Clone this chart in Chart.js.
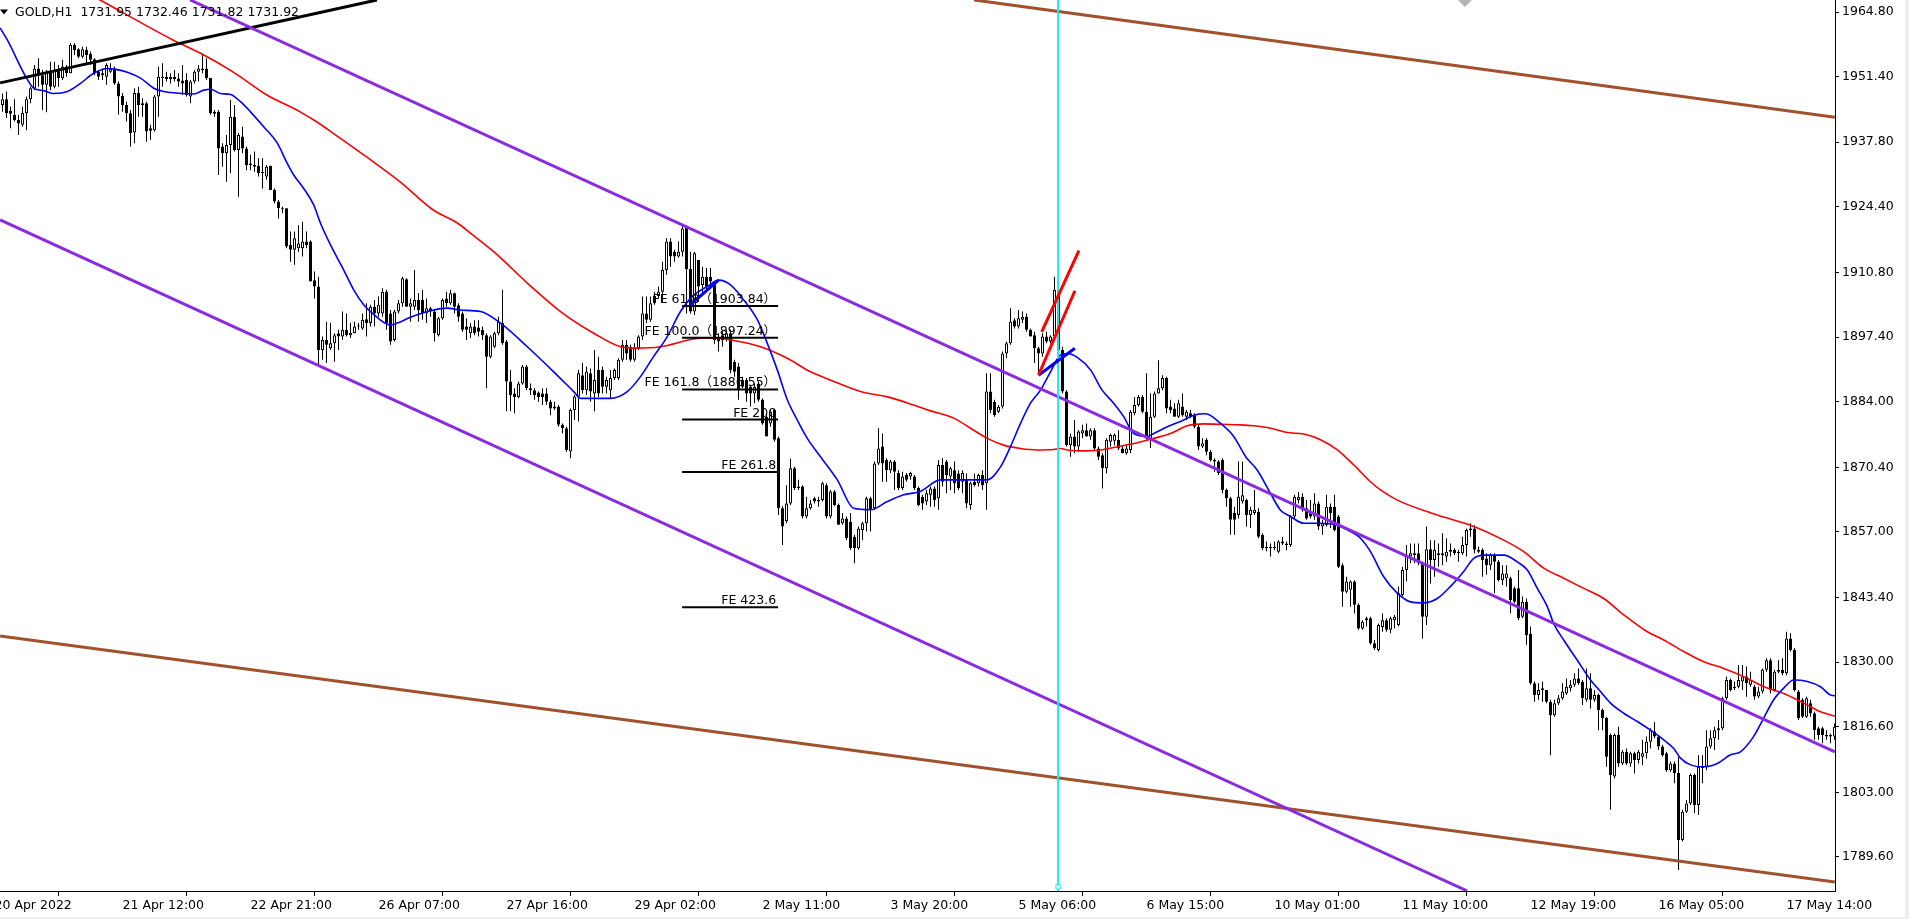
<!DOCTYPE html>
<html>
<head>
<meta charset="utf-8">
<title>GOLD,H1</title>
<script src="https://cdn.jsdelivr.net/npm/chart.js@4.4.1/dist/chart.umd.min.js"></script>
<style>
  html, body { margin: 0; padding: 0; background: #fff; }
  canvas { display: block; }
</style>
</head>
<body>
<canvas id="goldChart" width="1909" height="919"></canvas>
<script>
// hourly candles, bar 0 = leftmost bar on screen
const opens = [
  1945.5,1946.7,1944.3,1943.5,1942.4,1941.4,1943.8,1946.7,1949.0,1953.1,
  1951.7,1949.7,1952.4,1949.3,1952.8,1951.1,1953.5,1952.1,1958.0,1957.1,
  1955.5,1956.9,1956.1,1955.0,1952.4,1952.1,1951.4,1952.4,1953.1,1950.0,
  1947.4,1945.5,1943.8,1939.8,1948.0,1945.9,1945.9,1940.7,1940.3,1947.3,
  1951.1,1951.4,1951.3,1951.4,1951.0,1950.6,1950.7,1947.3,1950.4,1952.4,
  1952.8,1953.1,1951.1,1944.1,1944.1,1936.9,1935.5,1937.2,1943.1,1936.2,
  1939.0,1936.5,1933.4,1933.1,1932.9,1931.5,1930.7,1932.9,1927.9,1925.5,
  1924.2,1924.1,1916.5,1915.5,1915.8,1915.8,1917.2,1917.2,1909.2,1907.9,
  1894.7,1896.8,1895.1,1896.1,1898.2,1897.5,1898.9,1897.8,1898.2,1899.6,
  1899.2,1901.1,1900.3,1903.7,1902.3,1902.3,1906.8,1902.3,1896.8,1902.7,
  1904.4,1909.4,1903.7,1903.7,1905.1,1905.1,1902.3,1903.4,1902.7,1897.8,
  1901.3,1905.4,1904.4,1906.5,1904.0,1902.3,1899.6,1898.2,1899.6,1899.4,
  1898.9,1897.8,1893.3,1895.4,1898.2,1900.3,1896.5,1888.2,1885.7,1885.0,
  1887.8,1891.3,1886.8,1886.4,1885.9,1885.7,1885.7,1884.0,1883.0,1883.0,
  1879.2,1878.5,1873.7,1882.3,1885.1,1889.5,1886.4,1889.9,1885.7,1890.6,
  1890.6,1887.1,1886.4,1888.9,1888.9,1892.7,1895.8,1895.4,1892.7,1895.1,
  1897.5,1902.3,1901.0,1904.4,1905.9,1906.8,1911.3,1917.2,1915.1,1914.1,
  1915.1,1920.3,1911.5,1902.7,1913.4,1908.2,1909.9,1909.9,1908.2,1897.2,
  1897.8,1897.2,1898.2,1892.3,1891.3,1888.5,1888.5,1887.1,1885.7,1887.8,
  1884.4,1880.9,1879.5,1882.3,1876.4,1861.9,1859.2,1862.9,1870.2,1866.1,
  1866.4,1860.2,1861.9,1864.0,1863.3,1863.6,1866.7,1860.2,1865.4,1862.6,
  1858.8,1859.8,1859.1,1856.0,1853.6,1857.4,1858.8,1864.0,1861.9,1871.2,
  1874.7,1871.9,1869.8,1871.6,1869.2,1866.1,1868.8,1868.5,1868.5,1866.1,
  1864.3,1863.3,1864.7,1866.0,1864.0,1870.9,1871.6,1868.5,1869.8,1869.1,
  1867.4,1867.8,1862.6,1867.4,1867.1,1868.8,1867.1,1886.1,1884.0,1881.9,
  1883.0,1894.0,1896.1,1900.9,1899.6,1901.0,1901.6,1898.9,1897.8,1895.1,
  1894.0,1897.5,1896.5,1897.5,1907.2,1894.7,1886.1,1875.0,1876.8,1874.7,
  1877.4,1878.1,1876.8,1878.1,1874.3,1872.9,1870.2,1875.7,1875.9,1876.1,
  1874.3,1873.3,1874.0,1881.6,1883.3,1885.0,1881.9,1876.1,1880.9,1885.7,
  1886.8,1888.9,1883.0,1882.6,1880.9,1883.0,1880.9,1881.6,1881.2,1878.8,
  1874.7,1876.1,1873.6,1871.9,1871.6,1871.9,1865.7,1864.0,1860.9,1860.5,
  1863.3,1863.6,1860.5,1860.9,1861.2,1856.4,1853.9,1853.6,1853.9,1852.9,
  1854.6,1854.6,1854.3,1860.2,1863.6,1864.3,1861.9,1861.2,1860.2,1862.9,
  1858.1,1858.4,1862.2,1862.2,1860.2,1850.1,1844.6,1845.0,1846.7,1841.9,
  1837.0,1839.1,1839.1,1833.9,1832.5,1837.3,1838.7,1836.7,1838.7,1837.7,
  1843.9,1849.1,1851.9,1852.2,1852.6,1850.5,1839.4,1853.4,1851.2,1852.6,
  1852.2,1851.9,1852.9,1853.3,1852.6,1852.6,1854.3,1857.4,1857.7,1853.3,
  1853.3,1851.5,1850.1,1852.2,1850.8,1847.0,1847.4,1847.4,1845.3,1845.3,
  1839.4,1842.5,1835.9,1825.6,1823.2,1824.2,1824.2,1821.8,1819.0,1821.5,
  1822.5,1823.5,1824.6,1825.3,1826.6,1825.9,1822.2,1824.6,1822.2,1823.2,
  1820.1,1818.4,1814.9,1806.3,1814.9,1809.0,1811.4,1809.0,1811.1,1809.7,
  1810.4,1811.1,1813.5,1815.6,1814.6,1812.5,1811.1,1807.6,1809.0,1807.0,
  1793.1,1799.0,1800.7,1806.6,1800.4,1808.0,1808.3,1812.5,1814.2,1815.9,
  1816.3,1822.5,1826.3,1824.9,1824.9,1826.0,1827.0,1825.3,1824.9,1822.9,
  1823.9,1828.4,1830.4,1824.2,1828.0,1828.4,1827.7,1834.9,1832.5,1823.9,
  1822.2,1818.7,1821.5,1819.4,1816.3,1816.3,1814.9,1814.6,1814.6
];
const highs = [
  1947.9,1948.3,1945.2,1946.7,1943.5,1945.2,1947.3,1949.3,1953.8,1955.2,
  1952.8,1952.8,1954.5,1954.5,1953.8,1954.9,1953.8,1958.3,1958.3,1957.3,
  1957.6,1957.6,1956.6,1955.2,1952.8,1953.1,1954.2,1954.2,1953.5,1950.4,
  1948.0,1946.2,1944.5,1949.0,1949.3,1946.9,1946.2,1941.4,1947.6,1953.5,
  1954.2,1952.4,1952.1,1952.8,1952.1,1953.8,1952.1,1950.7,1952.8,1953.8,
  1955.9,1955.2,1951.1,1944.5,1944.5,1937.6,1939.3,1946.6,1945.5,1939.7,
  1941.0,1936.9,1935.2,1935.9,1934.5,1934.5,1933.1,1932.9,1928.2,1925.8,
  1924.4,1924.1,1919.3,1919.3,1920.6,1921.3,1919.3,1917.5,1911.0,1909.9,
  1897.5,1900.6,1900.3,1898.2,1898.9,1902.7,1902.3,1900.3,1900.6,1900.3,
  1902.3,1904.4,1904.1,1905.1,1905.8,1907.5,1907.2,1903.0,1903.0,1905.1,
  1909.9,1909.6,1905.4,1911.3,1906.5,1907.2,1905.4,1903.7,1903.0,1901.6,
  1905.4,1906.8,1907.2,1906.6,1904.4,1902.7,1901.3,1900.3,1900.9,1900.9,
  1899.6,1898.2,1897.8,1898.5,1901.6,1907.2,1896.8,1890.6,1886.8,1888.2,
  1891.6,1891.6,1887.8,1886.8,1886.1,1886.8,1886.8,1884.4,1884.0,1883.3,
  1879.5,1878.8,1882.6,1885.4,1890.6,1892.0,1891.3,1890.9,1894.7,1893.3,
  1891.3,1889.2,1890.6,1890.9,1893.0,1896.8,1896.8,1895.8,1896.1,1897.8,
  1905.8,1905.8,1905.8,1906.8,1907.9,1913.0,1917.9,1917.9,1915.5,1917.2,
  1920.6,1920.6,1915.1,1915.1,1913.4,1912.0,1911.7,1911.7,1909.0,1898.2,
  1898.5,1898.9,1898.9,1892.7,1892.0,1889.2,1888.9,1887.5,1887.8,1888.2,
  1884.7,1881.2,1882.3,1882.6,1876.8,1862.3,1866.7,1872.2,1870.5,1867.8,
  1866.7,1864.3,1863.6,1864.3,1864.3,1867.4,1867.1,1865.7,1865.7,1862.9,
  1860.9,1860.2,1860.9,1856.4,1858.1,1859.1,1864.3,1864.3,1871.6,1878.5,
  1877.4,1872.3,1871.9,1871.9,1869.8,1869.5,1869.2,1869.5,1868.8,1866.4,
  1864.7,1865.7,1866.4,1866.4,1871.9,1872.3,1871.9,1870.5,1871.6,1869.8,
  1869.8,1869.1,1867.4,1869.1,1869.1,1869.8,1889.9,1889.9,1884.4,1883.3,
  1894.4,1896.5,1903.4,1901.3,1903.0,1902.7,1902.3,1899.2,1898.5,1895.4,
  1898.2,1898.5,1897.8,1909.9,1908.5,1895.4,1886.4,1877.4,1880.2,1878.1,
  1879.2,1879.5,1878.5,1878.5,1874.7,1873.3,1876.4,1877.4,1877.4,1878.1,
  1875.0,1875.0,1882.3,1885.0,1885.4,1885.4,1889.9,1885.7,1886.1,1892.6,
  1889.5,1889.2,1884.4,1883.7,1884.4,1885.7,1882.3,1882.3,1881.6,1879.2,
  1876.4,1876.4,1874.0,1872.3,1871.9,1872.3,1866.0,1864.3,1862.2,1871.6,
  1871.6,1863.9,1862.2,1865.7,1861.9,1856.7,1855.0,1854.6,1855.0,1855.3,
  1856.0,1855.0,1860.5,1864.7,1865.3,1865.0,1863.6,1863.6,1865.0,1863.3,
  1859.5,1864.7,1862.9,1864.7,1860.5,1850.5,1847.7,1847.0,1847.0,1842.2,
  1838.7,1839.4,1839.4,1834.6,1838.0,1840.1,1839.1,1839.4,1839.8,1845.7,
  1849.8,1854.3,1854.6,1854.6,1854.6,1850.8,1858.1,1855.3,1855.3,1854.6,
  1856.7,1855.7,1854.6,1853.6,1853.3,1856.0,1857.7,1858.8,1858.4,1854.0,
  1853.6,1852.6,1852.6,1852.6,1851.2,1850.1,1850.1,1847.7,1845.7,1849.1,
  1843.6,1843.2,1837.4,1826.0,1825.6,1826.0,1824.2,1822.2,1822.2,1823.2,
  1825.6,1826.6,1826.3,1827.7,1828.7,1826.3,1828.7,1827.7,1824.2,1823.5,
  1820.4,1818.7,1815.2,1815.2,1816.6,1811.8,1812.1,1811.4,1811.4,1811.8,
  1813.9,1814.6,1816.3,1817.6,1814.9,1812.8,1811.4,1809.4,1809.4,1810.4,
  1799.4,1801.4,1806.9,1806.9,1810.7,1810.7,1815.9,1815.9,1816.6,1818.0,
  1822.8,1827.0,1826.6,1826.0,1829.4,1829.4,1829.1,1828.0,1825.3,1824.9,
  1828.7,1830.8,1830.8,1828.4,1830.4,1830.8,1836.3,1836.0,1832.9,1824.2,
  1822.5,1822.8,1822.2,1819.7,1816.6,1816.6,1815.9,1815.2,1817.3
];
const lows = [
  1944.1,1942.8,1940.7,1942.1,1939.3,1941.0,1940.3,1945.9,1948.6,1949.3,
  1944.5,1944.0,1948.6,1949.0,1949.3,1950.7,1951.4,1952.1,1955.9,1955.2,
  1955.2,1953.8,1953.8,1951.7,1950.7,1950.7,1949.7,1952.1,1949.7,1943.5,
  1944.1,1942.1,1936.9,1937.6,1943.1,1943.1,1937.9,1938.3,1940.0,1943.1,
  1949.3,1950.4,1950.0,1950.4,1949.3,1947.6,1947.3,1945.9,1950.0,1950.4,
  1952.1,1950.7,1943.5,1943.1,1931.0,1932.7,1929.6,1931.4,1935.9,1926.5,
  1935.5,1932.0,1932.0,1931.7,1930.7,1928.2,1930.0,1927.9,1925.1,1922.0,
  1923.1,1915.8,1913.0,1912.4,1915.1,1914.1,1915.8,1908.9,1905.4,1891.6,
  1892.7,1892.0,1894.7,1892.3,1894.7,1896.8,1897.5,1897.2,1898.2,1898.9,
  1898.9,1897.5,1899.6,1899.6,1901.6,1901.6,1898.9,1895.8,1896.5,1902.3,
  1903.7,1903.7,1900.6,1903.0,1900.6,1901.0,1900.3,1901.6,1896.5,1897.5,
  1901.0,1903.7,1904.1,1902.3,1900.6,1898.5,1896.8,1897.2,1897.8,1897.5,
  1896.8,1886.8,1893.0,1895.1,1897.8,1895.8,1882.0,1882.0,1881.6,1884.7,
  1887.5,1886.4,1885.4,1884.4,1884.0,1883.3,1883.3,1881.2,1882.3,1878.8,
  1877.4,1873.6,1872.3,1880.2,1879.9,1885.7,1885.4,1884.0,1882.0,1885.0,
  1885.7,1885.7,1884.7,1888.5,1888.5,1892.3,1892.7,1892.3,1892.3,1894.7,
  1896.8,1900.3,1900.6,1904.1,1905.4,1904.7,1910.3,1912.0,1913.0,1913.9,
  1914.1,1902.3,1902.3,1902.0,1904.7,1906.5,1907.2,1907.9,1896.0,1894.4,
  1895.4,1896.5,1889.9,1889.2,1884.4,1886.8,1884.0,1883.0,1883.7,1884.0,
  1879.2,1876.8,1878.8,1875.7,1860.5,1854.3,1858.8,1862.6,1865.7,1865.7,
  1859.8,1859.8,1861.6,1862.9,1862.2,1863.3,1859.8,1859.8,1862.3,1858.5,
  1858.5,1855.3,1853.3,1850.5,1853.3,1855.3,1857.1,1857.1,1861.6,1870.9,
  1867.4,1867.4,1869.2,1865.7,1865.7,1865.7,1867.4,1867.8,1865.7,1862.3,
  1861.6,1862.6,1862.2,1862.2,1861.6,1866.4,1865.0,1865.7,1865.0,1865.7,
  1865.0,1861.9,1861.6,1866.4,1866.4,1865.7,1861.6,1881.6,1880.9,1881.6,
  1882.6,1893.0,1895.8,1899.2,1899.2,1900.3,1898.5,1897.5,1892.0,1889.9,
  1893.3,1896.1,1896.1,1896.8,1893.3,1885.7,1874.7,1872.6,1873.3,1873.6,
  1876.4,1876.8,1876.1,1874.0,1871.9,1866.0,1869.1,1874.7,1874.9,1874.0,
  1873.3,1873.0,1873.3,1881.2,1883.0,1881.6,1876.1,1874.4,1880.6,1885.7,
  1886.4,1881.6,1881.6,1880.9,1880.6,1880.9,1880.2,1880.6,1878.5,1874.0,
  1874.4,1872.9,1871.6,1869.5,1868.8,1865.0,1862.2,1856.4,1856.4,1859.8,
  1862.9,1858.1,1857.8,1860.5,1855.7,1853.2,1853.0,1851.9,1853.2,1852.6,
  1854.3,1853.2,1853.9,1859.5,1862.9,1861.2,1859.5,1859.8,1859.5,1857.4,
  1856.4,1858.1,1857.8,1857.1,1849.5,1841.5,1844.3,1841.5,1840.1,1836.7,
  1836.7,1837.4,1833.6,1832.5,1832.2,1836.3,1836.3,1836.0,1837.0,1837.4,
  1843.6,1846.7,1850.5,1850.5,1850.1,1834.9,1837.7,1846.3,1847.7,1849.8,
  1850.1,1850.8,1851.9,1852.2,1850.8,1852.2,1851.9,1856.0,1852.6,1852.6,
  1847.7,1848.1,1849.1,1844.3,1846.7,1846.0,1845.7,1840.1,1842.2,1838.7,
  1839.1,1833.6,1825.3,1821.8,1822.2,1821.8,1821.5,1810.7,1818.7,1821.1,
  1822.2,1823.2,1823.9,1824.9,1825.3,1821.1,1821.8,1820.4,1821.8,1815.9,
  1815.9,1808.3,1799.4,1805.9,1808.3,1808.7,1808.7,1808.3,1806.9,1809.0,
  1808.7,1810.0,1812.1,1814.2,1811.8,1810.4,1807.3,1807.3,1804.9,1786.9,
  1792.8,1798.7,1800.4,1798.7,1798.3,1804.9,1807.6,1812.1,1811.8,1813.9,
  1815.9,1822.2,1823.9,1824.2,1824.6,1824.2,1822.8,1824.9,1822.2,1822.5,
  1823.5,1828.0,1823.5,1823.9,1827.7,1827.3,1827.3,1832.2,1823.9,1818.0,
  1818.4,1818.4,1818.7,1813.9,1813.9,1813.2,1813.9,1813.2,1813.9
];
const closes = [
  1946.7,1943.8,1943.7,1942.4,1941.7,1943.9,1946.7,1949.0,1953.1,1951.7,
  1949.7,1952.4,1949.3,1952.8,1951.1,1953.5,1952.1,1958.0,1956.9,1955.5,
  1957.1,1955.9,1954.9,1952.1,1951.4,1951.7,1953.8,1953.1,1950.0,1947.3,
  1945.5,1943.8,1939.7,1948.0,1945.5,1945.5,1940.0,1940.2,1947.3,1951.4,
  1951.4,1950.9,1950.9,1950.9,1950.4,1950.0,1947.6,1950.4,1952.4,1953.1,
  1953.1,1951.1,1943.8,1943.7,1936.5,1935.5,1937.2,1943.1,1936.2,1939.3,
  1936.5,1933.1,1933.1,1932.7,1931.4,1931.4,1932.7,1927.9,1925.5,1924.1,
  1924.0,1916.2,1915.5,1917.9,1916.8,1917.2,1916.5,1908.9,1907.9,1894.7,
  1896.8,1895.8,1896.1,1897.8,1897.5,1898.9,1897.8,1898.3,1899.6,1899.7,
  1901.0,1900.3,1903.7,1902.3,1904.1,1906.8,1900.3,1896.5,1902.7,1904.4,
  1909.6,1903.7,1904.4,1905.1,1903.0,1902.3,1903.4,1902.7,1898.2,1901.3,
  1905.1,1904.4,1906.5,1903.7,1901.6,1898.9,1898.9,1899.6,1898.2,1898.5,
  1897.8,1893.3,1897.5,1898.2,1900.6,1896.1,1888.2,1885.4,1885.0,1887.8,
  1891.3,1886.8,1886.4,1885.4,1885.0,1885.0,1884.0,1882.6,1882.6,1879.2,
  1878.5,1874.0,1882.3,1885.1,1889.9,1886.4,1890.2,1886.1,1888.5,1885.7,
  1887.1,1888.5,1888.9,1890.6,1892.7,1895.8,1894.0,1892.7,1895.1,1897.5,
  1902.3,1901.0,1904.4,1905.9,1906.8,1911.3,1917.2,1914.1,1914.1,1915.1,
  1919.9,1911.5,1902.7,1914.8,1907.9,1909.9,1907.9,1908.9,1896.8,1896.5,
  1896.8,1898.2,1890.6,1890.2,1886.4,1887.1,1885.7,1885.7,1887.1,1884.4,
  1879.5,1876.8,1881.9,1876.1,1861.9,1858.1,1862.9,1870.2,1866.1,1866.4,
  1860.2,1861.9,1862.9,1863.3,1863.6,1867.1,1860.2,1865.4,1862.6,1858.5,
  1859.8,1855.7,1853.6,1853.6,1857.7,1858.8,1864.0,1861.6,1871.2,1874.3,
  1871.2,1869.8,1871.6,1869.5,1866.1,1868.5,1867.8,1869.2,1866.1,1862.6,
  1862.9,1865.0,1866.0,1863.6,1870.9,1867.4,1868.8,1870.2,1867.1,1866.1,
  1869.2,1862.9,1867.1,1866.7,1868.8,1866.7,1886.1,1882.3,1881.2,1882.9,
  1894.0,1896.1,1900.6,1899.6,1901.3,1901.6,1898.9,1897.5,1895.1,1894.0,
  1897.5,1896.5,1897.5,1907.2,1894.7,1886.1,1875.0,1876.8,1874.7,1877.8,
  1878.1,1876.8,1878.1,1874.3,1872.6,1870.2,1876.1,1877.1,1877.1,1874.3,
  1873.3,1874.3,1881.9,1883.3,1885.0,1881.9,1876.4,1880.9,1885.7,1886.8,
  1888.9,1882.6,1882.3,1880.9,1883.7,1881.2,1881.9,1880.9,1878.8,1874.7,
  1875.4,1873.6,1871.9,1871.6,1869.2,1865.7,1864.0,1859.5,1859.5,1864.3,
  1864.6,1860.5,1861.6,1861.6,1856.0,1853.6,1853.6,1853.9,1853.6,1855.0,
  1855.0,1854.3,1860.2,1864.3,1864.3,1861.6,1859.8,1860.2,1862.9,1858.1,
  1858.8,1862.2,1860.9,1857.4,1849.8,1844.6,1846.7,1846.7,1841.9,1837.0,
  1838.4,1838.7,1833.9,1832.9,1837.7,1838.7,1836.7,1839.1,1839.4,1844.3,
  1849.1,1852.2,1852.6,1852.6,1850.5,1839.4,1853.4,1851.2,1853.3,1852.2,
  1852.6,1852.9,1853.3,1852.6,1852.9,1854.3,1857.4,1857.7,1853.3,1852.9,
  1851.2,1850.1,1852.2,1850.8,1847.0,1848.4,1848.4,1842.9,1842.5,1839.1,
  1842.5,1835.6,1825.6,1823.2,1824.2,1824.6,1821.8,1819.0,1821.5,1822.5,
  1823.9,1824.9,1825.3,1826.6,1825.6,1822.5,1824.6,1822.2,1823.2,1820.1,
  1818.4,1810.4,1806.6,1814.9,1809.0,1811.4,1809.0,1811.1,1809.7,1811.4,
  1811.1,1813.5,1815.9,1814.6,1812.5,1810.7,1807.6,1809.0,1807.0,1793.1,
  1799.0,1800.7,1806.6,1800.4,1808.3,1808.3,1812.5,1814.2,1815.9,1816.3,
  1822.5,1826.3,1824.2,1824.6,1826.3,1827.0,1825.6,1826.3,1822.9,1823.9,
  1828.4,1830.4,1824.2,1828.0,1828.4,1827.7,1834.9,1832.5,1824.2,1818.4,
  1818.7,1822.5,1819.4,1815.9,1814.9,1814.9,1814.6,1814.9,1816.6
];

// time axis
const timeLabels = ['20 Apr 2022', '21 Apr 12:00', '22 Apr 21:00', '26 Apr 07:00', '27 Apr 16:00',
  '29 Apr 02:00', '2 May 11:00', '3 May 20:00', '5 May 06:00', '6 May 15:00', '10 May 01:00',
  '11 May 10:00', '12 May 19:00', '16 May 05:00', '17 May 14:00'];
const timeLabelBars = [-2, 30, 62, 94, 126, 158, 190, 222, 254, 286, 318, 350, 382, 414, 446];

// price axis
const priceTicks = [1964.80, 1951.40, 1937.80, 1924.40, 1910.80, 1897.40, 1884.00,
  1870.40, 1857.00, 1843.40, 1830.00, 1816.60, 1803.00, 1789.60];

// moving averages as [bar, price]
const blueMa = [
  [-0.6,1961.5],[1.2,1959.0],[5.8,1951.4],[7.8,1949.0],[10.3,1948.5],[12.8,1947.9],[16.2,1948.3],
  [19.5,1950.0],[22.8,1952.1],[26.2,1953.1],[28.3,1952.9],[31.2,1952.3],[34.5,1951.1],[37.8,1949.0],
  [40.3,1948.3],[45.3,1947.9],[47.8,1947.8],[50.3,1948.6],[52,1948.8],[54.5,1947.9],[57,1947.7],
  [59.5,1946.2],[62,1944.1],[65.3,1941.0],[68.7,1937.6],[71.2,1933.4],[72.8,1931.0],[75.3,1928.2],
  [77.8,1924.8],[79.5,1921.0],[82,1916.5],[85.3,1911.3],[87.8,1907.2],[90.3,1904.1],[92,1902.7],
  [97,1899.9],[98.7,1900.3],[102,1901.5],[106.2,1902.7],[111.2,1903.4],[114.5,1903.0],[119.5,1902.7],
  [124.5,1900.3],[131.2,1895.4],[137.8,1890.2],[142.8,1886.1],[144.5,1884.7],[147.8,1884.7],
  [152,1884.7],[156.2,1886.1],[159.5,1889.2],[162.8,1893.4],[166.2,1897.5],[169.5,1902.7],
  [172.8,1906.1],[176.2,1907.9],[179.1,1909.2],[182,1908.2],[185.3,1905.1],[188.7,1901.0],
  [191.2,1896.1],[193.7,1890.6],[196.2,1884.4],[198.7,1880.2],[201.2,1876.4],[204.5,1872.6],
  [208.7,1867.8],[212.8,1861.9],[217,1861.6],[221.2,1863.3],[225.3,1864.7],[229.5,1865.4],
  [234.5,1867.8],[237.8,1867.8],[246.2,1867.8],[249.5,1870.5],[252,1874.7],[254.5,1879.5],
  [257,1883.7],[259.5,1886.4],[262,1890.2],[264.5,1893.7],[266.2,1894.0],[268.7,1893.2],
  [272,1890.6],[274.9,1886.4],[277.8,1883.7],[280.3,1880.9],[282.8,1877.4],[286.2,1876.8],
  [287.8,1877.4],[291.2,1878.8],[295.3,1880.2],[297.8,1881.2],[300.8,1881.5],[304.5,1879.5],
  [307.8,1876.8],[310.8,1872.6],[313.7,1869.8],[317,1865.0],[319.5,1861.5],[322,1860.2],
  [325.3,1858.8],[329.5,1858.8],[333.7,1858.4],[337,1857.1],[339.5,1855.7],[342,1852.9],
  [345.3,1847.7],[348.7,1844.3],[352,1842.5],[355.3,1842.3],[358.7,1843.2],[362,1845.7],
  [365.3,1848.8],[367.8,1851.5],[370.3,1852.2],[375.3,1852.2],[378.7,1850.8],[381.2,1849.1],
  [383.7,1845.3],[386.2,1841.5],[387.8,1838.0],[390.3,1834.6],[393.7,1830.4],[397,1826.3],
  [399.5,1823.9],[402,1821.5],[405.3,1819.4],[408.7,1817.7],[412,1815.9],[415.3,1813.9],
  [417.8,1812.1],[419.5,1810.1],[422,1808.7],[425.3,1808.3],[428.7,1809.0],[432,1810.8],
  [434.5,1811.4],[437.8,1814.6],[440.3,1818.4],[442.8,1822.2],[445.3,1824.6],[447.8,1826.3],
  [451.2,1826.0],[454.5,1824.9],[457,1823.2],[458.7,1823.0]
];
const redMa = [
  [15,1971.6],[24.4,1967.3],[42.6,1959.0],[49.4,1956.3],[57.6,1952.4],[66.1,1947.6],[74.4,1944.1],
  [78.6,1942.0],[82.6,1939.7],[91.1,1934.7],[99.4,1929.6],[107.6,1923.8],[113.6,1921.1],
  [116.9,1919.0],[122.8,1915.1],[131.2,1908.6],[139.5,1902.7],[147.8,1898.2],[154.5,1895.4],
  [158.7,1895.1],[164.5,1895.4],[172.8,1897.0],[177.8,1897.2],[182.8,1896.7],[189.5,1895.4],
  [196.2,1893.0],[202,1890.2],[207.8,1888.2],[214.5,1886.1],[221.2,1885.0],[227.8,1883.3],
  [232,1882.1],[237.8,1880.6],[242,1878.5],[246.2,1876.4],[250.3,1875.0],[254.5,1874.3],
  [258.7,1874.0],[262.8,1874.1],[264.5,1874.3],[266.2,1874.0],[271.2,1873.8],[275.3,1874.1],
  [279.5,1874.8],[283.7,1875.5],[287.8,1876.4],[292,1877.4],[296.2,1879.0],[300.3,1879.4],
  [304.5,1879.3],[309.5,1879.2],[312.8,1879.0],[317,1878.5],[321.2,1877.6],[325.3,1877.3],
  [329.5,1876.1],[333.7,1874.0],[337.8,1870.9],[342,1867.4],[344.5,1865.7],[348.7,1863.6],
  [358.7,1860.5],[367,1858.4],[375.3,1855.3],[380.3,1852.9],[385.3,1849.5],[390.3,1847.4],
  [395.3,1845.3],[400.3,1843.2],[405.3,1839.8],[411.2,1836.3],[415.3,1834.6],[420.3,1832.2],
  [425.3,1830.1],[430.3,1828.7],[435.3,1827.0],[440.3,1824.9],[445.3,1823.5],[450.3,1821.5],
  [454.5,1819.7],[458.7,1818.7]
];

// drawn objects, endpoints as [bar, price]
const purpleUpper = [[46.9, 1967.3], [458.1, 1811.4]];
const purpleLower = [[-0.6, 1921.7], [366.1, 1782.6]];
const brownUpper = [[242.9, 1967.3], [458.1, 1943.0]];
const brownLower = [[-0.6, 1835.4], [458.1, 1784.4]];
const blackTrend = [[-0.6, 1950.1], [93.6, 1967.3]];
const redRayA = [[259.8, 1898.5], [269.1, 1915.3]];
const redRayB = [[259.0, 1889.5], [268.1, 1907.0]];
const blueRay = [[259.0, 1889.5], [268.1, 1895.1]];
const feBase = [[171.9, 1904.0], [179.0, 1909.2]];
const cyanBar = 263.9;
const feStartBar = 169.9;
const feEndBar = 193.9;
const feLevels = [1903.84, 1897.24, 1886.55, 1880.3, 1869.4, 1841.4];
const feLabels = ['FE 61.8\uFF081903.84\uFF09', 'FE 100.0\uFF081897.24\uFF09', 'FE 161.8\uFF081886.55\uFF09',
  'FE 200', 'FE 261.8', 'FE 423.6'];
const headerText = 'GOLD,H1  1731.95 1732.46 1731.82 1731.92';

const X_MIN = -0.625, X_MAX = 458.125;
const Y_MIN = 1782.55, Y_MAX = 1967.29;
const FONT = '"DejaVu Sans", "Noto Sans CJK SC", sans-serif';
const LABEL_FONT = '12.5px ' + FONT;

const wickData = highs.map((h, i) => ({ x: i, y: [lows[i], h] }));
const bodyData = opens.map((o, i) => {
    let lo = Math.min(o, closes[i]);
    let hi = Math.max(o, closes[i]);
    if (hi - lo < 0.22) hi = lo + 0.22;
    return { x: i, y: [lo, hi] };
});
const bodyColors = opens.map((o, i) => closes[i] >= o ? '#ffffff' : '#000000');

function lineSet(points, color, width, order) {
    return {
        type: 'line',
        data: points.map(p => ({ x: p[0], y: p[1] })),
        borderColor: color,
        borderWidth: width,
        pointRadius: 0,
        tension: 0,
        clip: 0,
        order: order
    };
}

const datasets = [
    {
        type: 'bar', data: wickData, backgroundColor: '#000', borderWidth: 0,
        barThickness: 1, grouped: false, inflateAmount: 0, clip: 0, order: 20
    },
    {
        type: 'bar', data: bodyData, backgroundColor: bodyColors, borderColor: '#000',
        borderWidth: 1, borderSkipped: false, barThickness: 3, grouped: false,
        inflateAmount: 0, clip: 0, order: 19
    },
    Object.assign(lineSet(blueMa, '#0000ff', 1.6, 10), { cubicInterpolationMode: 'monotone' }),
    Object.assign(lineSet(redMa, '#ff0000', 1.6, 11), { cubicInterpolationMode: 'monotone' }),
    lineSet(purpleUpper, '#8a2be2', 3, 5),
    lineSet(purpleLower, '#8a2be2', 3, 5),
    lineSet(brownUpper, '#a0522d', 3, 5),
    lineSet(brownLower, '#a0522d', 3, 5),
    lineSet(blackTrend, '#000000', 3, 5),
    lineSet([[cyanBar, Y_MIN], [cyanBar, Y_MAX]], '#1ee6f5', 2, 4),
    lineSet(redRayA, '#ff0000', 3, 3),
    lineSet(redRayB, '#ff0000', 3, 3),
    lineSet(blueRay, '#0000ff', 3, 3),
    lineSet(feBase, '#0000ff', 3, 3)
];
feLevels.forEach(v => datasets.push(lineSet([[feStartBar, v], [feEndBar, v]], '#000000', 2, 3)));
datasets.push({
    type: 'line', data: [{ x: cyanBar, y: 1783.4 }], showLine: false, pointStyle: 'rect',
    pointRadius: 3, pointBorderColor: '#1ee6f5', pointBackgroundColor: '#ffffff',
    pointBorderWidth: 1, clip: false, order: 2
});
datasets.push({
    type: 'line', data: [{ x: 365.6, y: Y_MAX }], showLine: false, pointStyle: 'rectRot',
    pointRadius: 7, pointBackgroundColor: '#b4b4b4', pointBorderWidth: 0, clip: false, order: 2
});

const decor = {
    id: 'decor',
    beforeDraw(chart) {
        const ctx = chart.ctx;
        ctx.save();
        ctx.fillStyle = '#ffffff';
        ctx.fillRect(0, 0, chart.width, chart.height);
        ctx.restore();
    },
    afterDatasetsDraw(chart) {
        const ctx = chart.ctx;
        const xs = chart.scales.x, ys = chart.scales.y;
        ctx.save();
        ctx.font = LABEL_FONT;
        ctx.fillStyle = '#000';
        ctx.textAlign = 'right';
        ctx.textBaseline = 'alphabetic';
        const xr = xs.getPixelForValue(feEndBar) - 2;
        feLevels.forEach((v, i) => {
            ctx.fillText(feLabels[i], xr, ys.getPixelForValue(v) - 3);
        });
        // header
        ctx.textAlign = 'left';
        ctx.textBaseline = 'middle';
        ctx.fillText(headerText, 15, 13);
        ctx.beginPath();
        ctx.moveTo(0, 9.5);
        ctx.lineTo(8, 9.5);
        ctx.lineTo(4, 14.5);
        ctx.closePath();
        ctx.fill();
        ctx.restore();
    },
    afterDraw(chart) {
        const ctx = chart.ctx;
        const xs = chart.scales.x, ys = chart.scales.y;
        const area = chart.chartArea;
        ctx.save();
        ctx.font = LABEL_FONT;
        ctx.fillStyle = '#000';
        // price labels
        ctx.textAlign = 'left';
        ctx.textBaseline = 'middle';
        priceTicks.forEach(v => {
            ctx.fillText(v.toFixed(2), area.right + 7, ys.getPixelForValue(v));
        });
        // time labels
        ctx.textBaseline = 'top';
        timeLabelBars.forEach((b, i) => {
            ctx.fillText(timeLabels[i], xs.getPixelForValue(b), area.bottom + 8);
        });
        ctx.fillStyle = '#f0f0f0';
        ctx.fillRect(1905, 0, 4, chart.height);
        ctx.fillRect(0, 917, chart.width, 2);
        ctx.restore();
    }
};

new Chart(document.getElementById('goldChart'), {
    type: 'bar',
    data: { datasets: datasets },
    options: {
        responsive: false,
        animation: false,
        devicePixelRatio: 1,
        layout: { padding: 0, autoPadding: false },
        plugins: { legend: { display: false }, tooltip: { enabled: false } },
        scales: {
            x: {
                type: 'linear', min: X_MIN, max: X_MAX, offset: false, bounds: 'data',
                afterBuildTicks: s => { s.ticks = timeLabelBars.map(v => ({ value: v })); },
                afterFit: s => { s.height = 28; },
                ticks: { display: false, autoSkip: false },
                grid: { drawOnChartArea: false, drawTicks: true, tickLength: 5, color: '#000', tickColor: '#000' },
                border: { display: true, color: '#000', width: 1 }
            },
            y: {
                type: 'linear', position: 'right', min: Y_MIN, max: Y_MAX, bounds: 'data',
                afterBuildTicks: s => { s.ticks = priceTicks.map(v => ({ value: v })); },
                afterFit: s => { s.width = 74; },
                ticks: { display: false, autoSkip: false },
                grid: { drawOnChartArea: false, drawTicks: true, tickLength: 4, color: '#000', tickColor: '#000' },
                border: { display: true, color: '#000', width: 1 }
            }
        }
    },
    plugins: [decor]
});
</script>
</body>
</html>
